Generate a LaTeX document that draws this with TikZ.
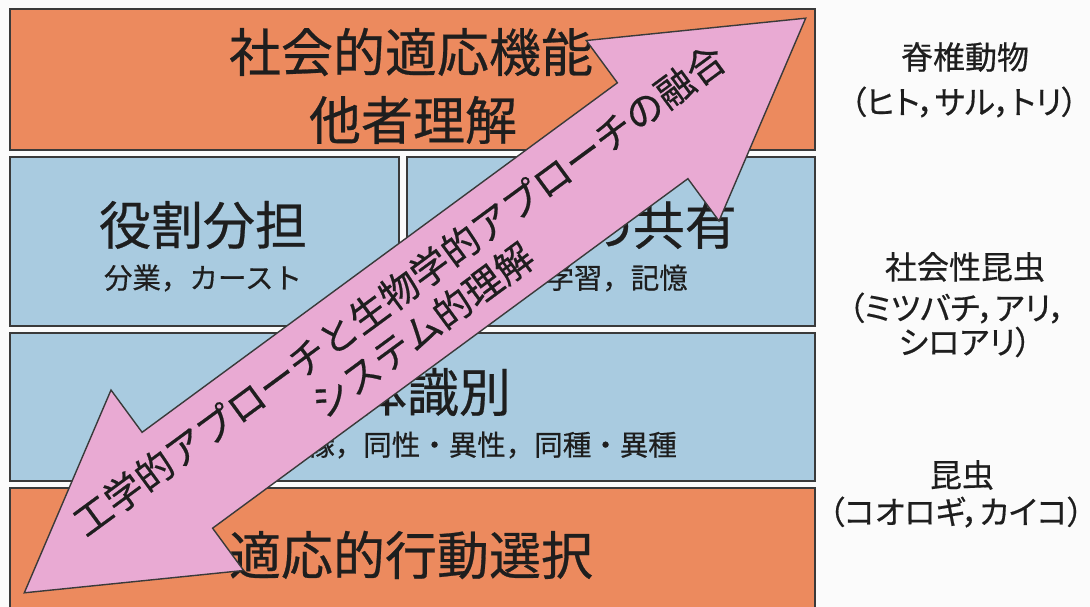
\documentclass[tikz,border=0pt]{standalone}
\usepackage{fontspec}
\newfontfamily\jp[FakeBold=0.5]{Noto Sans CJK JP}
\newfontfamily\jpp[RawFeature=+palt,FakeBold=0.5]{Noto Sans CJK JP}
\definecolor{orng}{HTML}{EC8A5E}
\definecolor{lblue}{HTML}{A9CBE0}
\definecolor{pinkar}{HTML}{E9AAD3}
\definecolor{edge}{HTML}{3A3A3A}
\definecolor{ink}{HTML}{1E1E1E}
\tikzset{
  box/.style={draw=edge, line width=1.3pt, inner sep=0pt},
  big/.style={inner sep=0pt, text=ink, font=\jp\fontsize{52}{52}\selectfont},
  small/.style={inner sep=0pt, text=ink, font=\jp\fontsize{28.5}{28.5}\selectfont},
  side/.style={inner sep=0pt, text=ink, font=\jpp\fontsize{32}{32}\selectfont},
  arrowtext/.style={inner sep=0pt, text=ink, rotate=36.33, font=\jp\fontsize{38}{38}\selectfont},
}
\begin{document}
\begin{tikzpicture}[x=1pt,y=-1pt]
\useasboundingbox (0,0) rectangle (1090,607);
\fill[white!97!gray] (0,0) rectangle (1090,607);
% boxes
\node[box, fill=orng, minimum width=805pt, minimum height=141pt] (topbox) at (412.5,79.5) {};
\node[box, fill=lblue, minimum width=389pt, minimum height=169pt] (rolebox) at (204.5,241.5) {};
\node[box, fill=lblue, minimum width=408pt, minimum height=169pt] (sharebox) at (611,241.5) {};
\node[box, fill=lblue, minimum width=805pt, minimum height=148pt] (idbox) at (412.5,407) {};
\node[box, fill=orng, minimum width=805pt, minimum height=130pt] (botbox) at (412.5,553) {};
% box texts
\node[big] (t1) at (411,52) {社会的適応機能};
\node[big] (t2) at (413,120) {他者理解};
\node[big] (role) at (203,225) {役割分担};
\node[small] (roles) at (203,278) {分業，カースト};
\node[big, anchor=east] (share) at (737,225) {情報の共有};
\node[small, anchor=east] (shares) at (688,278) {学習，記憶};
\node[big] (ident) at (407,392) {個体識別};
\node[small, anchor=east] (idents) at (677,445) {血縁，同性・異性，同種・異種};
\node[big] (act) at (411,555) {適応的行動選択};
% arrow
\begin{scope}[shift={(415,305.5)}, rotate=36.33]
\filldraw[fill=pinkar, draw=edge, line width=1.4pt, line join=miter]
  (485,0) -- (295,-112) -- (295,-59.5) -- (-295,-59.5) -- (-295,-112) -- (-485,0)
  -- (-295,112) -- (-295,59.5) -- (295,59.5) -- (295,112) -- cycle;
\end{scope}
\node[arrowtext] (al1) at (399,290) {工学的アプローチと生物学的アプローチの融合};
\node[arrowtext] (al2) at (422,330) {システム的理解};
% right column
\node[side] (v1) at (965,57) {脊椎動物};
\node[side] (v2) at (964,102) {（ヒト，サル，トリ）};
\node[side] (s1) at (965,267) {社会性昆虫};
\node[side] (s2) at (957,308) {（ミツバチ，アリ，};
\node[side] (s3) at (965,342) {シロアリ）};
\node[side] (i1) at (962,475) {昆虫};
\node[side] (i2) at (956,512) {（コオロギ，カイコ）};
\end{tikzpicture}
\end{document}
